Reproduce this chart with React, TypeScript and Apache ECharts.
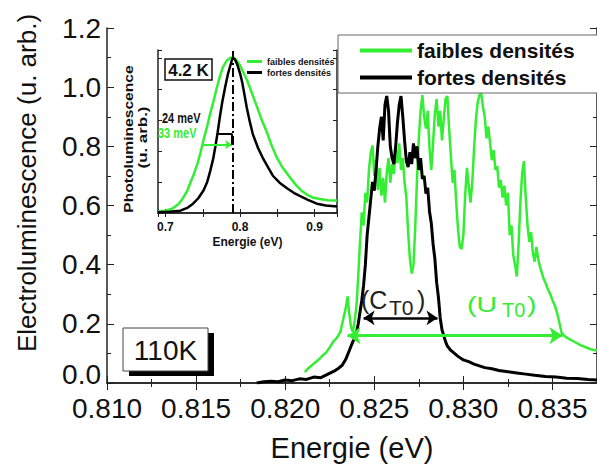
import React, { useEffect, useRef } from "react";
import * as echarts from "echarts";

// ---- Main chart: electroluminescence at 110K (energy eV, intensity a.u.)
const greenEL: [number, number][] = [
  [0.8211, 0.037], [0.8213, 0.05], [0.8215, 0.06], [0.8217, 0.07], [0.8219, 0.08],
  [0.8221, 0.093], [0.8223, 0.103], [0.8225, 0.12], [0.8227, 0.14], [0.8229, 0.153],
  [0.8231, 0.173], [0.8232, 0.2], [0.8233, 0.227], [0.8234, 0.253], [0.8235, 0.293],
  [0.8236, 0.233], [0.8237, 0.187], [0.8238, 0.173], [0.8239, 0.21], [0.824, 0.26],
  [0.8241, 0.36], [0.8242, 0.477], [0.8243, 0.577], [0.8244, 0.533], [0.8245, 0.643],
  [0.8246, 0.61], [0.8247, 0.72], [0.8248, 0.777], [0.8249, 0.803], [0.825, 0.7],
  [0.8251, 0.753], [0.8252, 0.653], [0.8253, 0.727], [0.8254, 0.633], [0.8255, 0.693],
  [0.8256, 0.61], [0.8257, 0.71], [0.8258, 0.76], [0.8259, 0.677], [0.826, 0.74],
  [0.8261, 0.707], [0.8262, 0.793], [0.8263, 0.743], [0.8264, 0.81], [0.8265, 0.72],
  [0.8266, 0.76], [0.8267, 0.677], [0.8268, 0.627], [0.8269, 0.51], [0.827, 0.42],
  [0.8271, 0.37], [0.8272, 0.4], [0.8273, 0.527], [0.8274, 0.693], [0.8275, 0.827],
  [0.8276, 0.92], [0.8277, 0.973], [0.8278, 0.9], [0.8279, 0.86], [0.828, 0.92],
  [0.8281, 0.793], [0.8282, 0.72], [0.8283, 0.81], [0.8284, 0.91], [0.8285, 0.96],
  [0.8286, 0.867], [0.8287, 0.92], [0.8288, 0.82], [0.8289, 0.893], [0.829, 0.96],
  [0.8291, 0.97], [0.8292, 0.86], [0.8293, 0.767], [0.8294, 0.677], [0.8295, 0.72],
  [0.8296, 0.61], [0.8297, 0.52], [0.8298, 0.46], [0.8299, 0.453], [0.83, 0.5],
  [0.8301, 0.633], [0.8302, 0.727], [0.8303, 0.667], [0.8304, 0.61], [0.8305, 0.677],
  [0.8306, 0.793], [0.8307, 0.887], [0.8308, 0.947], [0.8309, 0.973], [0.831, 0.98],
  [0.8311, 0.933], [0.8312, 0.9], [0.8313, 0.827], [0.8314, 0.867], [0.8315, 0.81],
  [0.8316, 0.753], [0.8317, 0.787], [0.8318, 0.72], [0.8319, 0.733], [0.832, 0.66],
  [0.8321, 0.687], [0.8322, 0.627], [0.8323, 0.667], [0.8324, 0.6], [0.8325, 0.643],
  [0.8326, 0.5], [0.8327, 0.533], [0.8328, 0.433], [0.8329, 0.4], [0.833, 0.36],
  [0.8331, 0.467], [0.8332, 0.61], [0.8333, 0.71], [0.8334, 0.75], [0.8335, 0.627],
  [0.8336, 0.533], [0.8337, 0.477], [0.8338, 0.51], [0.8339, 0.44], [0.834, 0.41],
  [0.8341, 0.46], [0.8342, 0.42], [0.8343, 0.393], [0.8344, 0.373], [0.8345, 0.353],
  [0.8346, 0.34], [0.8347, 0.323], [0.8348, 0.31], [0.8349, 0.297], [0.835, 0.28],
  [0.8351, 0.267], [0.8352, 0.25], [0.8353, 0.227], [0.8354, 0.2], [0.8355, 0.173],
  [0.8356, 0.163], [0.8358, 0.153], [0.836, 0.147], [0.8363, 0.137], [0.8366, 0.127],
  [0.8369, 0.12], [0.8372, 0.113], [0.8375, 0.11],
];

const blackEL: [number, number][] = [
  [0.8184, 0.0], [0.8188, 0.004], [0.8192, 0.006], [0.8196, 0.004], [0.82, 0.01],
  [0.8204, 0.008], [0.8208, 0.014], [0.8212, 0.012], [0.8216, 0.02], [0.822, 0.018],
  [0.8224, 0.03], [0.8226, 0.036], [0.8228, 0.042], [0.823, 0.05], [0.8232, 0.06],
  [0.8234, 0.08], [0.8235, 0.095], [0.8236, 0.11], [0.8237, 0.125], [0.8238, 0.14],
  [0.8239, 0.15], [0.824, 0.17], [0.8241, 0.2], [0.8242, 0.24], [0.8243, 0.28],
  [0.8244, 0.33], [0.8245, 0.4], [0.8246, 0.5], [0.8247, 0.56], [0.8248, 0.62],
  [0.8249, 0.68], [0.825, 0.65], [0.8251, 0.72], [0.8252, 0.8], [0.8253, 0.86],
  [0.8254, 0.9], [0.8255, 0.82], [0.8256, 0.94], [0.8257, 0.97], [0.8258, 0.92],
  [0.8259, 0.8], [0.826, 0.76], [0.8261, 0.74], [0.8262, 0.8], [0.8263, 0.88],
  [0.8264, 0.94], [0.8265, 0.97], [0.8266, 0.9], [0.8267, 0.82], [0.8268, 0.75],
  [0.8269, 0.73], [0.827, 0.78], [0.8271, 0.74], [0.8272, 0.81], [0.8273, 0.76],
  [0.8274, 0.8], [0.8275, 0.72], [0.8276, 0.76], [0.8277, 0.69], [0.8278, 0.7],
  [0.8279, 0.64], [0.828, 0.66], [0.8281, 0.58], [0.8282, 0.54], [0.8283, 0.47],
  [0.8284, 0.42], [0.8285, 0.34], [0.8286, 0.29], [0.8287, 0.22], [0.8288, 0.18],
  [0.8289, 0.16], [0.829, 0.14], [0.8291, 0.125], [0.8293, 0.11], [0.8295, 0.1],
  [0.8297, 0.09], [0.83, 0.078], [0.8303, 0.072], [0.8306, 0.064], [0.8309, 0.058],
  [0.8312, 0.052], [0.8316, 0.048], [0.832, 0.042], [0.8325, 0.038], [0.833, 0.034],
  [0.8335, 0.03], [0.834, 0.026], [0.8346, 0.022], [0.8352, 0.02], [0.8358, 0.016],
  [0.8364, 0.015], [0.837, 0.012], [0.8375, 0.01],
];

// ---- Inset: photoluminescence at 4.2 K
const greenPL: [number, number][] = [
  [0.69, 0.01], [0.7, 0.015], [0.71, 0.03], [0.718, 0.06], [0.724, 0.1], [0.729, 0.14],
  [0.733, 0.19], [0.738, 0.25], [0.743, 0.32], [0.747, 0.39], [0.751, 0.47], [0.756, 0.56],
  [0.76, 0.64], [0.765, 0.73], [0.769, 0.81], [0.773, 0.88], [0.777, 0.94], [0.782, 0.98],
  [0.787, 1.0], [0.792, 1.0], [0.796, 0.98], [0.8, 0.95], [0.804, 0.91], [0.809, 0.86],
  [0.813, 0.81], [0.818, 0.745], [0.823, 0.68], [0.829, 0.6], [0.836, 0.52], [0.842, 0.44],
  [0.849, 0.36], [0.856, 0.3], [0.863, 0.255], [0.87, 0.21], [0.876, 0.175], [0.882, 0.145],
  [0.889, 0.12], [0.897, 0.1], [0.907, 0.09], [0.918, 0.082], [0.93, 0.08],
];
const blackPL: [number, number][] = [
  [0.69, 0.005], [0.705, 0.008], [0.72, 0.015], [0.73, 0.035], [0.737, 0.06], [0.744, 0.095],
  [0.751, 0.145], [0.756, 0.2], [0.76, 0.27], [0.764, 0.35], [0.767, 0.43], [0.77, 0.52],
  [0.773, 0.62], [0.776, 0.71], [0.78, 0.81], [0.784, 0.9], [0.787, 0.95], [0.79, 1.0],
  [0.793, 0.99], [0.796, 0.96], [0.8, 0.9], [0.803, 0.84], [0.806, 0.76], [0.809, 0.68],
  [0.813, 0.59], [0.817, 0.51], [0.824, 0.42], [0.831, 0.35], [0.838, 0.29], [0.844, 0.24],
  [0.853, 0.195], [0.863, 0.16], [0.872, 0.13], [0.88, 0.11], [0.891, 0.085], [0.903, 0.06],
  [0.915, 0.048], [0.93, 0.042],
];

const seriesNames = ["faibles densités", "fortes densités"];
// annotation positions in data space
const ctoArrow: [number, number][] = [[0.8244, 0.22], [0.82855, 0.22]];
const utoArrow: [number, number][] = [[0.8235, 0.16], [0.83556, 0.16]];
const plPeak = 0.79;
const bracket24: [number, number][] = [[0.7707, 0.51], [0.7893, 0.51], [0.7893, 0.44]];
const arrow33: [number, number][] = [[0.7507, 0.44], [0.7893, 0.44]];

const GREEN = "#33ee33";
const FONT = "Liberation Sans, Arial, sans-serif";

export default function App() {
  const ref = useRef<HTMLDivElement>(null);
  useEffect(() => {
    if (!ref.current) return;
    const chart = echarts.init(ref.current, null, { renderer: "svg" });
    const axisLine = { show: true, lineStyle: { color: "#222", width: 1.5 } };
    const mainTick = { show: true, inside: true, length: 7, lineStyle: { color: "#222" } };
    const mainMinor = { show: true, splitNumber: 2, length: 4, lineStyle: { color: "#222" } };
    const insetTick = { show: true, inside: true, length: 4, lineStyle: { color: "#222" } };
    const option: any = {
      animation: false,
      textStyle: { fontFamily: FONT },
      grid: [
        { left: 107, top: 28, right: 0, bottom: 79 },
        { left: 158, top: 50, width: 179, height: 163 },
      ],
      legend: [
        {
          data: seriesNames,
          orient: "vertical",
          left: 338,
          top: 35,
          padding: [5, 40, 5, 22],
          itemGap: 6,
          itemWidth: 52,
          itemHeight: 4,
          icon: "rect",
          borderColor: "#666",
          borderWidth: 1,
          backgroundColor: "#fff",
          textStyle: { fontSize: 21, lineHeight: 21, fontWeight: "bold", color: "#111", fontFamily: FONT },
          selectedMode: false,
        },
        {
          data: seriesNames,
          orient: "vertical",
          left: 247,
          top: 57,
          padding: 0,
          itemGap: 2,
          itemWidth: 15,
          itemHeight: 3,
          icon: "rect",
          textStyle: { fontSize: 9, lineHeight: 9, fontWeight: "bold", color: "#111", fontFamily: FONT },
          selectedMode: false,
        },
      ],
      xAxis: [
        {
          gridIndex: 0, type: "value", min: 0.81, max: 0.8375, interval: 0.005,
          axisLine, axisTick: mainTick, minorTick: mainMinor, splitLine: { show: false },
          axisLabel: {
            fontSize: 28, color: "#111", margin: 11, showMaxLabel: false, fontFamily: FONT,
            formatter: (v: number) => v.toFixed(3),
          },
          name: "Energie (eV)", nameLocation: "middle", nameGap: 50,
          nameTextStyle: { fontSize: 29, color: "#111", fontFamily: FONT },
        },
        {
          gridIndex: 0, type: "value", position: "top", min: 0.81, max: 0.8375, interval: 0.005,
          axisLine, axisTick: mainTick, minorTick: mainMinor, splitLine: { show: false },
          axisLabel: { show: false },
        },
        {
          gridIndex: 1, type: "value", min: 0.69, max: 0.93, splitNumber: 3,
          axisLine, axisTick: insetTick,
          minorTick: { show: true, splitNumber: 2, length: 4, lineStyle: { color: "#222" } },
          splitLine: { show: false },
          axisLabel: {
            fontSize: 12, fontWeight: "bold", color: "#111", margin: 8,
            showMinLabel: false, showMaxLabel: false, fontFamily: FONT,
          },
          name: "Energie (eV)", nameLocation: "middle", nameGap: 23,
          nameTextStyle: { fontSize: 12, fontWeight: "bold", color: "#111", fontFamily: FONT },
        },
        {
          gridIndex: 1, type: "value", position: "top", min: 0.69, max: 0.93, splitNumber: 3,
          axisLine, axisTick: insetTick,
          minorTick: { show: true, splitNumber: 2, length: 4, lineStyle: { color: "#222" } },
          splitLine: { show: false }, axisLabel: { show: false },
        },
      ],
      yAxis: [
        {
          gridIndex: 0, type: "value", min: 0, max: 1.2, interval: 0.2,
          axisLine, axisTick: mainTick, minorTick: mainMinor, splitLine: { show: false },
          axisLabel: {
            fontSize: 28, color: "#111", margin: 6, fontFamily: FONT,
            formatter: (v: number) => (v === 0 ? "{z|0.0}" : v.toFixed(1)),
            rich: { z: { fontSize: 28, color: "#111", fontFamily: FONT, padding: [0, 0, 18, 0] } },
          },
        },
        {
          gridIndex: 0, type: "value", position: "right", min: 0, max: 1.2, interval: 0.2,
          axisLine, axisTick: mainTick, minorTick: mainMinor, splitLine: { show: false },
          axisLabel: { show: false },
        },
        {
          gridIndex: 1, type: "value", min: 0, max: 1.05, interval: 0.2,
          axisLine, axisTick: insetTick, splitLine: { show: false }, axisLabel: { show: false },
        },
        {
          gridIndex: 1, type: "value", position: "right", min: 0, max: 1.05, interval: 0.2,
          axisLine, axisTick: insetTick, splitLine: { show: false }, axisLabel: { show: false },
        },
      ],
      series: [
        {
          name: seriesNames[0], type: "line", xAxisIndex: 0, yAxisIndex: 0, data: greenEL,
          symbol: "none", color: GREEN, lineStyle: { width: 2.5, color: GREEN },
          markLine: {
            silent: true, symbol: ["arrow", "arrow"], symbolSize: 13,
            label: { show: false },
            lineStyle: { color: GREEN, width: 3, type: "solid" },
            data: [[{ coord: utoArrow[0] }, { coord: utoArrow[1] }]],
          },
        },
        {
          name: seriesNames[1], type: "line", xAxisIndex: 0, yAxisIndex: 0, data: blackEL,
          symbol: "none", color: "#000", lineStyle: { width: 3, color: "#000" },
          markLine: {
            silent: true, symbol: ["arrow", "arrow"], symbolSize: 11,
            label: { show: false },
            lineStyle: { color: "#000", width: 2.5, type: "solid" },
            data: [[{ coord: ctoArrow[0] }, { coord: ctoArrow[1] }]],
          },
        },
        {
          name: seriesNames[0], type: "line", xAxisIndex: 2, yAxisIndex: 2, data: greenPL,
          symbol: "none", color: GREEN, lineStyle: { width: 2.5, color: GREEN },
          markLine: {
            silent: true, symbol: ["none", "arrow"], symbolSize: 7,
            label: { show: false },
            lineStyle: { color: GREEN, width: 2, type: "solid" },
            data: [[{ coord: arrow33[0] }, { coord: arrow33[1] }]],
          },
        },
        {
          name: seriesNames[1], type: "line", xAxisIndex: 2, yAxisIndex: 2, data: blackPL,
          symbol: "none", color: "#000", lineStyle: { width: 2.5, color: "#000" },
          markLine: {
            silent: true, symbol: ["none", "none"],
            label: { show: false },
            lineStyle: { color: "#000", width: 2, type: "solid" },
            data: [
              [
                { xAxis: plPeak, yAxis: 0, lineStyle: { type: [9, 3, 2, 3], width: 2 } },
                { xAxis: plPeak, yAxis: 1.05 },
              ],
              [{ coord: bracket24[0] }, { coord: bracket24[1] }],
              [{ coord: bracket24[1] }, { coord: bracket24[2] }],
            ],
          },
        },
      ],
      graphic: [
        {
          type: "text", x: 27, y: 183, rotation: Math.PI / 2, z: 10,
          style: { text: "Electroluminescence (u. arb.)", fontSize: 26, fill: "#111", fontFamily: FONT, align: "center", verticalAlign: "middle" },
        },
        { type: "rect", z: 10, shape: { x: 129, y: 333, width: 85, height: 43 }, style: { fill: "#000" } },
        { type: "rect", z: 11, shape: { x: 123, y: 328, width: 85, height: 43 }, style: { fill: "#fff", stroke: "#444", lineWidth: 1 } },
        {
          type: "text", x: 165.5, y: 350, z: 12,
          style: { text: "110K", fontSize: 28, fill: "#111", fontFamily: FONT, align: "center", verticalAlign: "middle" },
        },
        { type: "text", x: 361, y: 300, z: 12, style: { text: "(C", fontSize: 25, fill: "#222", fontFamily: FONT, verticalAlign: "middle" } },
        { type: "text", x: 389, y: 307, z: 12, style: { text: "T0", fontSize: 21, fill: "#222", fontFamily: FONT, verticalAlign: "middle" } },
        { type: "text", x: 417, y: 300, z: 12, style: { text: ")", fontSize: 25, fill: "#222", fontFamily: FONT, verticalAlign: "middle" } },
        { type: "text", x: 467, y: 304, scaleX: 1.3, z: 12, style: { text: "(U", fontSize: 22, fill: GREEN, fontFamily: FONT, verticalAlign: "middle" } },
        { type: "text", x: 502, y: 310, z: 12, style: { text: "T0", fontSize: 20, fill: GREEN, fontFamily: FONT, verticalAlign: "middle" } },
        { type: "text", x: 527, y: 304, scaleX: 1.3, z: 12, style: { text: ")", fontSize: 22, fill: GREEN, fontFamily: FONT, verticalAlign: "middle" } },
        { type: "rect", z: 11, shape: { x: 165, y: 59, width: 47, height: 21 }, style: { fill: "#fff", stroke: "#111", lineWidth: 1.5 } },
        {
          type: "text", x: 188.5, y: 70, z: 12,
          style: { text: "4.2 K", fontSize: 17, fontWeight: "bold", fill: "#111", fontFamily: FONT, align: "center", verticalAlign: "middle" },
        },
        {
          type: "text", x: 162, y: 118, scaleY: 1.3, z: 12,
          style: { text: "24 meV", fontSize: 11, fontWeight: "bold", fill: "#111", fontFamily: FONT, verticalAlign: "middle" },
        },
        {
          type: "text", x: 158, y: 133, scaleY: 1.3, z: 12,
          style: { text: "33 meV", fontSize: 11, fontWeight: "bold", fill: GREEN, fontFamily: FONT, verticalAlign: "middle" },
        },
        {
          type: "text", x: 128.5, y: 139, rotation: Math.PI / 2, scaleX: 1.3, z: 12,
          style: { text: "Photoluminescence", fontSize: 12, fontWeight: "bold", fill: "#111", fontFamily: FONT, align: "center", verticalAlign: "middle" },
        },
        {
          type: "text", x: 142, y: 137.5, rotation: Math.PI / 2, scaleX: 1.3, z: 12,
          style: { text: "(u. arb.)", fontSize: 13, fontWeight: "bold", fill: "#111", fontFamily: FONT, align: "center", verticalAlign: "middle" },
        },
      ],
    };
    chart.setOption(option);
    return () => chart.dispose();
  }, []);
  return (
    <div
      ref={ref}
      style={{ position: "fixed", left: 0, top: 0, width: 597, height: 467, background: "#fff" }}
    />
  );
}
